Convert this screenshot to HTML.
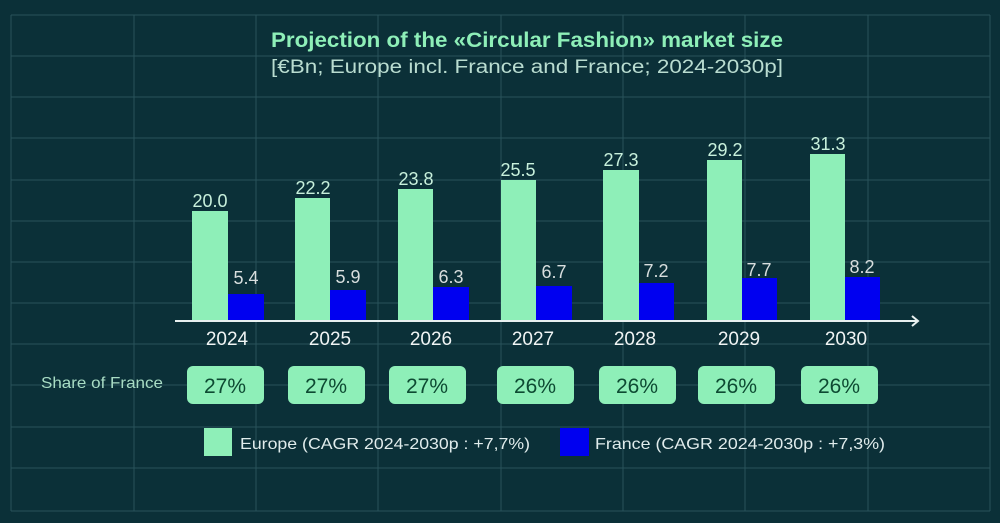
<!DOCTYPE html>
<html><head><meta charset="utf-8"><style>
body{margin:0;background:#0b3038;}
svg{display:block;font-family:"Liberation Sans",sans-serif;}
</style></head><body>
<svg width="1000" height="523" viewBox="0 0 1000 523">
<rect width="1000" height="523" fill="#0b3038"/>
<g stroke="#28525a" stroke-width="1">
<line x1="11" y1="15" x2="11" y2="511"/><line x1="134" y1="15" x2="134" y2="511"/><line x1="256" y1="15" x2="256" y2="511"/><line x1="378" y1="15" x2="378" y2="511"/><line x1="501" y1="15" x2="501" y2="511"/><line x1="623" y1="15" x2="623" y2="511"/><line x1="745" y1="15" x2="745" y2="511"/><line x1="868" y1="15" x2="868" y2="511"/><line x1="990" y1="15" x2="990" y2="511"/>
<line x1="11" y1="15" x2="990" y2="15"/><line x1="11" y1="56" x2="990" y2="56"/><line x1="11" y1="97" x2="990" y2="97"/><line x1="11" y1="138" x2="990" y2="138"/><line x1="11" y1="180" x2="990" y2="180"/><line x1="11" y1="221" x2="990" y2="221"/><line x1="11" y1="262" x2="990" y2="262"/><line x1="11" y1="303" x2="990" y2="303"/><line x1="11" y1="344" x2="990" y2="344"/><line x1="11" y1="385" x2="990" y2="385"/><line x1="11" y1="427" x2="990" y2="427"/><line x1="11" y1="468" x2="990" y2="468"/><line x1="11" y1="511" x2="990" y2="511"/>
</g>
<text x="271" y="47" font-size="21" font-weight="bold" fill="#8eefb8" textLength="512" lengthAdjust="spacingAndGlyphs">Projection of the «Circular Fashion» market size</text>
<text x="271" y="73" font-size="19" fill="#b9dcd0" textLength="512" lengthAdjust="spacingAndGlyphs">[€Bn; Europe incl. France and France; 2024-2030p]</text>
<g fill="#8eefb8">
<rect x="192" y="211" width="36" height="110"/><rect x="295" y="198" width="35" height="123"/><rect x="398" y="189" width="35" height="132"/><rect x="501" y="180" width="35" height="141"/><rect x="603" y="170" width="36" height="151"/><rect x="707" y="160" width="35" height="161"/><rect x="810" y="154" width="35" height="167"/>
</g>
<g fill="#0000f0">
<rect x="228" y="294" width="36" height="27"/><rect x="330" y="290" width="36" height="31"/><rect x="433" y="287" width="36" height="34"/><rect x="536" y="286" width="36" height="35"/><rect x="639" y="283" width="35" height="38"/><rect x="742" y="278" width="35" height="43"/><rect x="845" y="277" width="35" height="44"/>
</g>
<g font-size="18" fill="#c8f0dc" text-anchor="middle">
<text x="210" y="207">20.0</text><text x="313" y="194">22.2</text><text x="416" y="185">23.8</text><text x="518" y="176">25.5</text><text x="621" y="166">27.3</text><text x="725" y="156">29.2</text><text x="828" y="150">31.3</text>
</g>
<g font-size="18" fill="#d8dede" text-anchor="middle">
<text x="246" y="284">5.4</text><text x="348" y="283">5.9</text><text x="451" y="283">6.3</text><text x="554" y="278">6.7</text><text x="656" y="277">7.2</text><text x="759" y="276">7.7</text><text x="862" y="273">8.2</text>
</g>
<line x1="175" y1="321" x2="918" y2="321" stroke="#e8f0f0" stroke-width="2"/>
<polyline points="912,316 918,321 912,326" fill="none" stroke="#e8f0f0" stroke-width="2"/>
<g font-size="19" fill="#f0f4f4" text-anchor="middle">
<text x="227" y="345">2024</text><text x="330" y="345">2025</text><text x="431" y="345">2026</text><text x="533" y="345">2027</text><text x="635" y="345">2028</text><text x="739" y="345">2029</text><text x="846" y="345">2030</text>
</g>
<text x="41" y="388" font-size="16" fill="#a8dcc4" textLength="122" lengthAdjust="spacingAndGlyphs">Share of France</text>
<g fill="#8eefb8">
<rect x="187" y="366" width="77" height="38" rx="6"/><rect x="288" y="366" width="77" height="38" rx="6"/><rect x="389" y="366" width="77" height="38" rx="6"/><rect x="497" y="366" width="77" height="38" rx="6"/><rect x="599" y="366" width="77" height="38" rx="6"/><rect x="698" y="366" width="77" height="38" rx="6"/><rect x="801" y="366" width="77" height="38" rx="6"/>
</g>
<g font-size="21" fill="#0d4a32" text-anchor="middle">
<text x="225" y="393">27%</text><text x="326" y="393">27%</text><text x="427" y="393">27%</text><text x="535" y="393">26%</text><text x="637" y="393">26%</text><text x="736" y="393">26%</text><text x="839" y="393">26%</text>
</g>
<rect x="204" y="428" width="28" height="28" fill="#8eefb8"/>
<text x="240" y="449" font-size="16" fill="#e0ecec" textLength="290" lengthAdjust="spacingAndGlyphs">Europe (CAGR 2024-2030p : +7,7%)</text>
<rect x="560" y="428" width="29" height="28" fill="#0000f0"/>
<text x="595" y="449" font-size="16" fill="#e0ecec" textLength="290" lengthAdjust="spacingAndGlyphs">France (CAGR 2024-2030p : +7,3%)</text>
</svg>
</body></html>
